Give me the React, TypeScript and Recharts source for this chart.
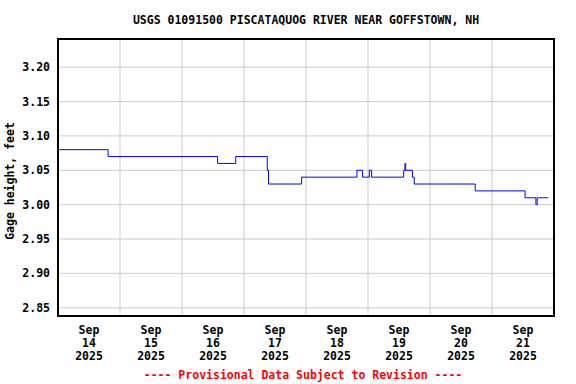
import React from 'react';
import { LineChart, Line, XAxis, YAxis, CartesianGrid, ReferenceArea } from 'recharts';

// hours since Sep 14 2025 00:00 at which the gage height changes
const hours = [0, 19.4, 61.8, 68.8, 81.0, 81.5, 94.3, 115.7, 117.9, 120.5, 121.4, 133.8, 134.3, 134.6, 137.2, 137.9, 161.5, 180.8, 185.0, 185.5, 189.8];
// gage height (feet) from that time on
const heights = [3.08, 3.07, 3.06, 3.07, 3.05, 3.03, 3.04, 3.05, 3.04, 3.05, 3.04, 3.05, 3.06, 3.05, 3.04, 3.03, 3.02, 3.01, 3.0, 3.01, 3.01];

const yTicks = [2.85, 2.9, 2.95, 3.0, 3.05, 3.1, 3.15, 3.2];
const gridTicks = [24, 48, 72, 96, 120, 144, 168];
const labelTicks = [12, 36, 60, 84, 108, 132, 156, 180];
const labelMonth = 'Sep';
const labelDays = ['14', '15', '16', '17', '18', '19', '20', '21'];
const labelYear = '2025';

const title = 'USGS 01091500 PISCATAQUOG RIVER NEAR GOFFSTOWN, NH';
const yLabel = 'Gage height, feet';
const footer = '---- Provisional Data Subject to Revision ----';

const data = hours.map((t, i) => ({ t, v: heights[i] }));

const FONT = 'DejaVu Sans Mono';
const FS = 11.5;
const Y_MIN = 2.838;
const Y_MAX = 3.241;

const YTick = (p: any) => (
  <text x={50} y={p.y} dy={4} textAnchor="end" fontFamily={FONT} fontWeight="bold" fontSize={FS} fill="#000">
    {Number(p.payload.value).toFixed(2)}
  </text>
);

const XTick = (p: any) => {
  const idx = labelTicks.indexOf(p.payload.value);
  return (
    <text x={p.x} textAnchor="middle" fontFamily={FONT} fontWeight="bold" fontSize={FS} fill="#000">
      <tspan x={p.x} y={334}>{labelMonth}</tspan>
      <tspan x={p.x} y={347}>{labelDays[idx]}</tspan>
      <tspan x={p.x} y={360}>{labelYear}</tspan>
    </text>
  );
};

const vGen = (props: any) => {
  const ax = props && props.xAxis;
  if (ax && typeof ax.scale === 'function') {
    return gridTicks.map((t) => ax.scale(t));
  }
  const off = props.offset;
  return gridTicks.map((t) => off.left + (t / 192) * off.width);
};

export default function App() {
  return (
    <div style={{ position: 'absolute', left: 0, top: 0, width: 576, height: 384, background: '#fff' }}>
      <LineChart width={576} height={384} data={data} margin={{ top: 39, right: 22, bottom: 18, left: 0 }}>
        <CartesianGrid
          xAxisId="grid"
          stroke="#cccccc"
          strokeWidth={1}
          vertical
          horizontal
          verticalCoordinatesGenerator={vGen}
        />
        <XAxis
          xAxisId="grid"
          type="number"
          dataKey="t"
          domain={[0, 192]}
          ticks={gridTicks}
          allowDataOverflow
          tick={false}
          tickLine={false}
          axisLine={false}
          height={0}
        />
        <XAxis
          xAxisId="lbl"
          type="number"
          dataKey="t"
          domain={[0, 192]}
          ticks={labelTicks}
          allowDataOverflow
          tick={XTick}
          tickLine={false}
          axisLine={false}
          height={50}
          interval={0}
        />
        <YAxis
          type="number"
          domain={[Y_MIN, Y_MAX]}
          ticks={yTicks}
          allowDataOverflow
          width={58}
          tick={YTick}
          tickLine={false}
          axisLine={false}
          interval={0}
        />
        <Line
          xAxisId="grid"
          type="stepAfter"
          dataKey="v"
          stroke="#0000ff"
          strokeWidth={1}
          dot={false}
          activeDot={false}
          isAnimationActive={false}
        />
        <ReferenceArea
          xAxisId="grid"
          x1={0}
          x2={192}
          y1={Y_MIN}
          y2={Y_MAX}
          fill="none"
          fillOpacity={0}
          stroke="#000"
          strokeWidth={2}
          ifOverflow="visible"
        />
      </LineChart>
      <svg width={576} height={384} style={{ position: 'absolute', left: 0, top: 0, pointerEvents: 'none' }}>
        <text x={306} y={24} textAnchor="middle" fontFamily={FONT} fontWeight="bold" fontSize={FS} fill="#000">
          {title}
        </text>
        <text
          transform="translate(13.5,181) rotate(-90)"
          textAnchor="middle"
          fontFamily={FONT}
          fontWeight="bold"
          fontSize={FS}
          fill="#000"
        >
          {yLabel}
        </text>
        <text x={303} y={379} textAnchor="middle" fontFamily={FONT} fontWeight="bold" fontSize={FS} fill="#ff0000">
          {footer}
        </text>
      </svg>
    </div>
  );
}
